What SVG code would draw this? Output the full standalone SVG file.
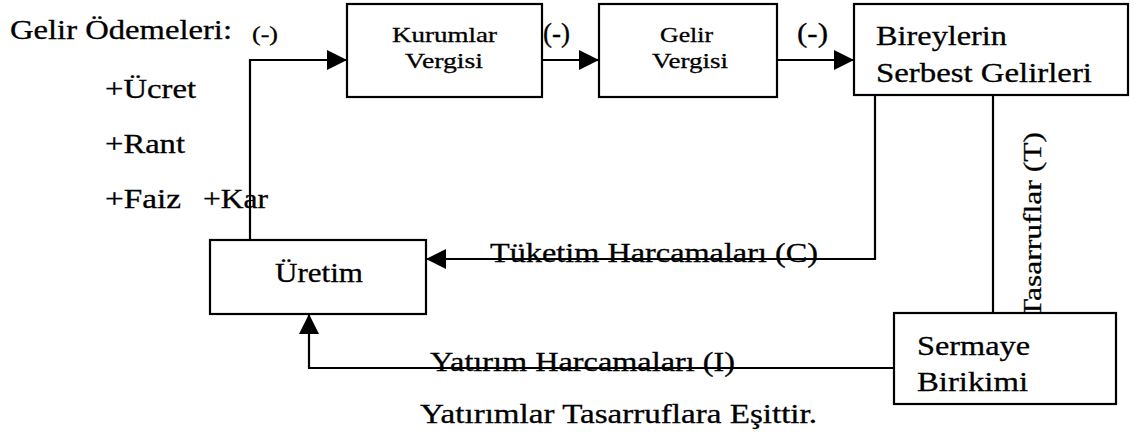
<svg xmlns="http://www.w3.org/2000/svg" width="1136" height="437" viewBox="0 0 1136 437">
  <style>
    .box { fill: #fff; stroke: #000; stroke-width: 2.2; }
    .wire { fill: none; stroke: #000; stroke-width: 2.2; }
    .lg { font-size: 27px; }
    .sm { font-size: 22px; }
  </style>
  <defs>
    <marker id="head" markerUnits="userSpaceOnUse" markerWidth="21" markerHeight="21" refX="20" refY="10" orient="auto">
      <path d="M0,0 L20,10 L0,20 Z" fill="#000"/>
    </marker>
  </defs>
  <rect width="1136" height="437" fill="#fff"/>

  <g font-family="'Liberation Serif', 'DejaVu Serif', serif" fill="#000" stroke="#000" stroke-width="0.3">
    <!-- income payments list -->
    <g id="gelir-odemeleri">
      <text class="lg" x="10" y="39" textLength="222" lengthAdjust="spacingAndGlyphs">Gelir Ödemeleri:</text>
      <text class="lg" x="105" y="98" textLength="91" lengthAdjust="spacingAndGlyphs">+Ücret</text>
      <text class="lg" x="105" y="153" textLength="80" lengthAdjust="spacingAndGlyphs">+Rant</text>
      <text class="lg" x="105" y="208" textLength="76" lengthAdjust="spacingAndGlyphs">+Faiz</text>
      <text class="lg" x="203" y="208" textLength="65" lengthAdjust="spacingAndGlyphs">+Kar</text>
    </g>

    <!-- connectors -->
    <g id="connectors">
      <polyline class="wire" points="250,240 250,60 347,60" marker-end="url(#head)"/>
      <line class="wire" x1="542" y1="60" x2="599" y2="60" marker-end="url(#head)"/>
      <line class="wire" x1="777" y1="60" x2="854" y2="60" marker-end="url(#head)"/>
      <polyline class="wire" points="875,95 875,259 426,259" marker-end="url(#head)"/>
      <line class="wire" x1="993" y1="95" x2="993" y2="313"/>
      <polyline class="wire" points="894,368 309,368 309,314" marker-end="url(#head)"/>

      <text style="font-size:21px" x="252" y="41" textLength="26" lengthAdjust="spacingAndGlyphs">(-)</text>
      <text class="lg" x="543" y="42" textLength="27" lengthAdjust="spacingAndGlyphs">(-)</text>
      <text class="lg" x="797" y="42" textLength="31" lengthAdjust="spacingAndGlyphs">(-)</text>
      <text class="lg" x="490" y="262" textLength="328" lengthAdjust="spacingAndGlyphs">Tüketim Harcamaları (C)</text>
      <text class="lg" x="430" y="371" textLength="305" lengthAdjust="spacingAndGlyphs">Yatırım Harcamaları (I)</text>
      <text style="font-size:26px" transform="translate(1041,318) rotate(-90)" x="0" y="0" textLength="186" lengthAdjust="spacingAndGlyphs">Tasarruflar (T)</text>
    </g>

    <g id="kurumlar-vergisi">
      <rect class="box" x="347" y="4" width="195" height="93"/>
      <text class="sm" x="392" y="42" textLength="105" lengthAdjust="spacingAndGlyphs">Kurumlar</text>
      <text class="sm" x="405" y="68" textLength="78" lengthAdjust="spacingAndGlyphs">Vergisi</text>
    </g>

    <g id="gelir-vergisi">
      <rect class="box" x="599" y="4" width="178" height="93"/>
      <text class="sm" x="660" y="42" textLength="53" lengthAdjust="spacingAndGlyphs">Gelir</text>
      <text class="sm" x="652" y="68" textLength="76" lengthAdjust="spacingAndGlyphs">Vergisi</text>
    </g>

    <g id="serbest-gelirler">
      <rect class="box" x="854" y="4" width="274" height="91"/>
      <text class="lg" x="876" y="45" textLength="131" lengthAdjust="spacingAndGlyphs">Bireylerin</text>
      <text class="lg" x="876" y="82" textLength="216" lengthAdjust="spacingAndGlyphs">Serbest Gelirleri</text>
    </g>

    <g id="uretim">
      <rect class="box" x="210" y="240" width="216" height="74"/>
      <text class="lg" x="275" y="282" textLength="88" lengthAdjust="spacingAndGlyphs">Üretim</text>
    </g>

    <g id="sermaye-birikimi">
      <rect class="box" x="894" y="313" width="222" height="91"/>
      <text class="lg" x="917" y="355" textLength="113" lengthAdjust="spacingAndGlyphs">Sermaye</text>
      <text class="lg" x="917" y="391" textLength="111" lengthAdjust="spacingAndGlyphs">Birikimi</text>
    </g>

    <g id="not">
      <text class="lg" x="420" y="423" textLength="397" lengthAdjust="spacingAndGlyphs">Yatırımlar Tasarruflara Eşittir.</text>
    </g>
  </g>
</svg>
